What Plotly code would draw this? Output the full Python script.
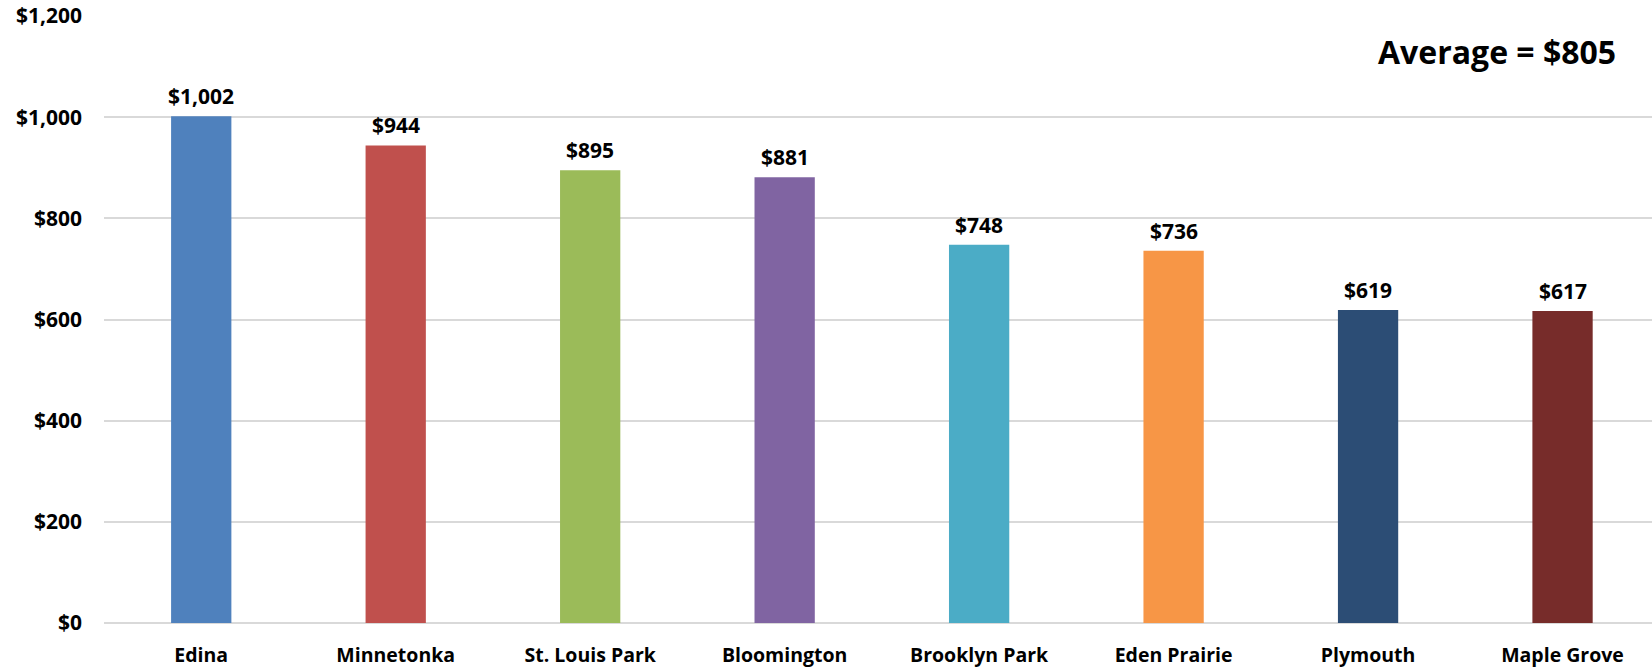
import plotly.graph_objects as go

cities = ['Edina', 'Minnetonka', 'St. Louis Park', 'Bloomington',
          'Brooklyn Park', 'Eden Prairie', 'Plymouth', 'Maple Grove']
values = [1002, 944, 895, 881, 748, 736, 619, 617]
colors = ['#4F81BD', '#C0504D', '#9BBB59', '#8064A2',
          '#4BACC6', '#F79646', '#2C4D75', '#772C2A']
average = 805

font = 'Open Sans'

fig = go.Figure()

fig.add_trace(go.Bar(
    x=cities,
    y=values,
    marker=dict(color=colors, line=dict(width=0)),
    cliponaxis=False,
    hoverinfo='x+y',
))

# value labels sit a bit higher above the bars than plotly's outside text
for c, v in zip(cities, values):
    fig.add_annotation(
        x=c, y=v, text='<b>${:,}</b>'.format(v),
        showarrow=False, yanchor='middle', yshift=20,
        font=dict(family=font, size=21, color='black'),
    )

fig.add_annotation(
    text='<b>Average = ${}</b>'.format(average),
    xref='paper', yref='paper',
    x=(1618 - 104) / 1548, y=1.0 - (52 - 16) / 607,
    xanchor='right', yanchor='middle',
    showarrow=False,
    font=dict(family=font, size=32, color='black'),
)

fig.update_layout(
    width=1652, height=668,
    margin=dict(l=104, r=0, t=16, b=45),
    plot_bgcolor='white', paper_bgcolor='white',
    bargap=0.69,
    showlegend=False,
    font=dict(family=font, color='black'),
)

fig.update_xaxes(
    range=[-0.5, 7.46],
    showgrid=False,
    showline=False,
    tickfont=dict(family=font, size=19.5, color='black', weight='bold'),
    ticklabelstandoff=18,
)

fig.update_yaxes(
    range=[0, 1200],
    dtick=200,
    tickprefix='$',
    tickformat=',d',
    showgrid=True,
    gridcolor='#D9D9D9',
    gridwidth=2,
    zeroline=True,
    zerolinecolor='#D9D9D9',
    zerolinewidth=2,
    tickfont=dict(family=font, size=21, color='black', weight='bold'),
    ticklabelstandoff=21,
)

fig.write_html('out.html', config={'displayModeBar': False},
               post_script="document.body.style.margin='0';")
